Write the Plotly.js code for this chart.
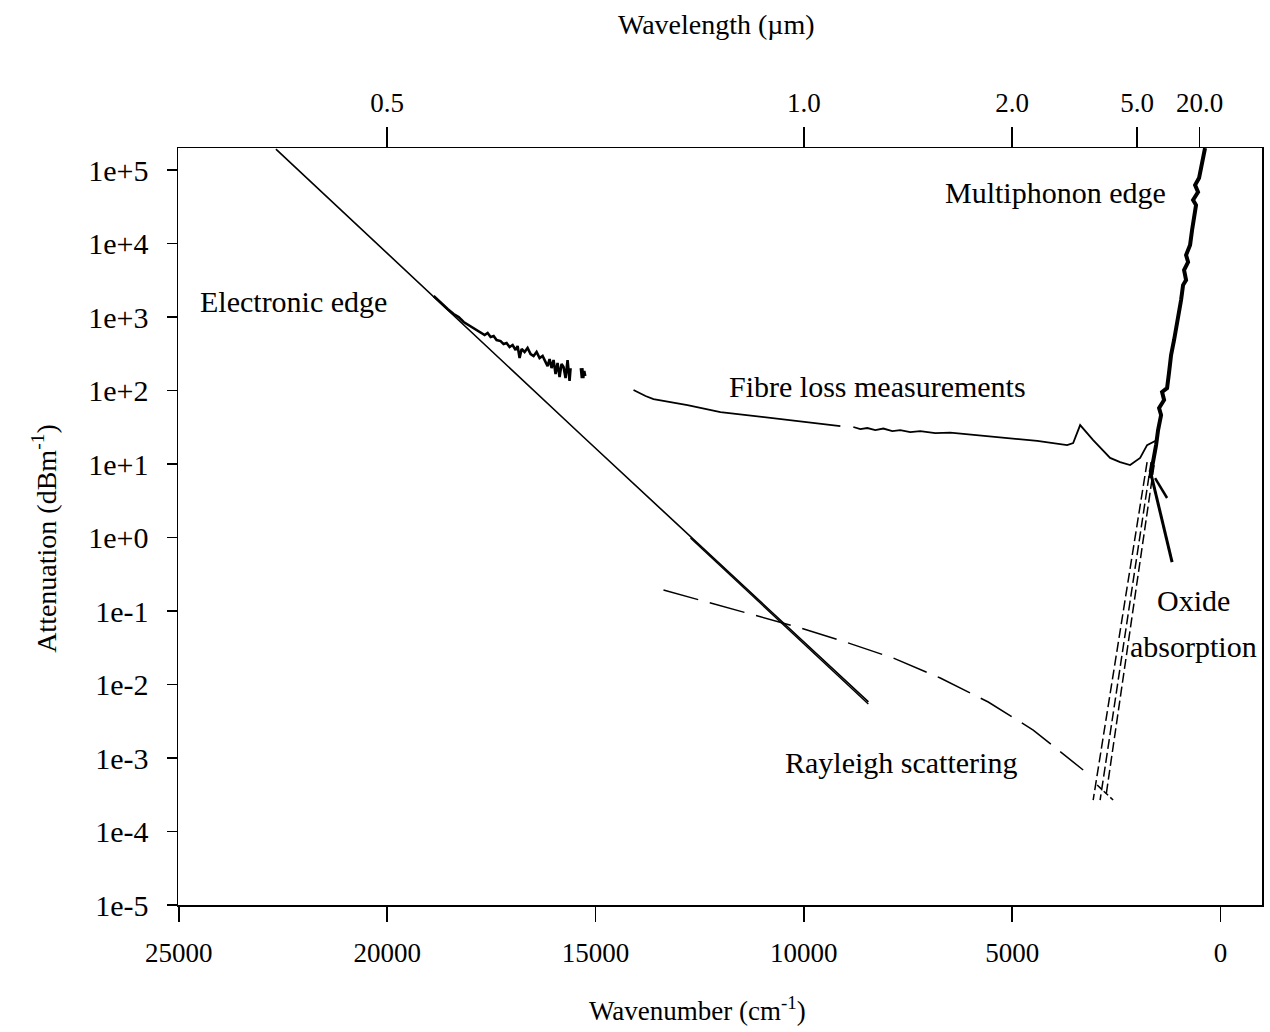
<!DOCTYPE html>
<html>
<head>
<meta charset="utf-8">
<script src="https://cdn.plot.ly/plotly-3.0.1.min.js"></script>
<style>html,body{margin:0;padding:0;background:#fff;}#chart{width:1270px;height:1032px;}</style>
</head>
<body>
<div id="chart"></div>
<script>
// ---- Data (wavenumber in cm^-1, attenuation in dB/m) ----
// Electronic edge: Urbach fit line
const edgeFitX = [22670, 18956, 15290, 8450];
const edgeFitY = [1.93e5, 2055, 23.3, 5.8e-3];
// second (slightly shifted) fit line near the end of the edge
const edgeFit2X = [12721, 8453];
const edgeFit2Y = [0.984, 5.43e-3];
// Measured (noisy) electronic edge data
const edgeMeasX = [18884,18716,18549,18405,18285,18165,18045,17949,17853,17757,17661,17589,17517,17445,17374,17278,17206,17134,17062,16990,16918,16870,16822,16774,16702,16630,16558,16486,16414,16342,16270,16198,16150,16102,16055,16007,15959,15911,15863,15815,15767,15719,15671,15623,15599];
const edgeMeasY = [1932,1550,1285,1099,1000,855,778,708,665,625,569,606,535,551,487,471,429,443,391,416,356,403,277,367,334,379,314,295,334,277,295,244,215,268,202,260,168,237,153,230,209,148,260,135,202];
const edgeBlobX = [15335, 15311, 15287, 15263];
const edgeBlobY = [202, 148, 184, 157];
// Fibre loss measurements
const fibreX = [14088,13800,13609,13201,12793,12002,10803,9844,9124,null,8813,8645,8477,8285,8093,7877,7686,7446,7206,6846,6487,6127,5599,5288,5048,4400,3681,3537,3369,3057,2650,2410,2170,1930,1763,1523];
const fibreY = [101.6,84.2,76.6,69.8,63.5,51.0,42.3,36.1,32.9,null,31.9,29.9,30.9,29.0,30.4,28.1,29.0,27.2,28.1,26.4,26.8,25.6,24.0,23.3,22.6,20.6,18.1,19.3,33.9,21.2,12.1,10.6,9.7,12.1,18.1,21.2];
// Multiphonon edge
const multiX = [1691,1619,1547,1499,1427,1475,1355,1403,1283,1235,1187,1115,1043,995,947,899,827,875,779,827,731,683,635,588,659,540,611,516,468,420,372];
const multiY = [6.45,10.6,18.1,29.0,46.4,57.8,74.3,95.4,108,178,304,487,778,1170,1703,2724,3188,4357,5600,6980,9550,15270,24400,33400,39100,50200,62500,77800,106400,145600,199200];
// Oxide absorption (solid tail + dashed bands)
const oxideSolidX = [1691, 1163];
const oxideSolidY = [8.28, 0.464];
const oxideBranchX = [1571, 1283];
const oxideBranchY = [6.45, 3.45];
const oxide1X = [1763, 3057];
const oxide1Y = [10.6, 2.68e-4];
const oxide2X = [1667, 2890];
const oxide2Y = [10.6, 2.68e-4];
const oxide3X = [1595, 2746];
const oxide3Y = [9.69, 3.14e-4];
const oxide4X = [2961, 2578];
const oxide4Y = [4.29e-4, 2.68e-4];
// Rayleigh scattering
const rayX = [13369,12482,11355,10156,9005,7854,6726,5575,4496,3297];
const rayY = [0.193,0.141,0.0939,0.0606,0.0379,0.0229,0.01226,0.00578,0.00240,0.000687];
// Tick labels
const xTicks = [25000,20000,15000,10000,5000,0];
const yTickVals = [1e-5,1e-4,1e-3,1e-2,1e-1,1,10,100,1e3,1e4,1e5];
const yTickText = ['1e-5','1e-4','1e-3','1e-2','1e-1','1e+0','1e+1','1e+2','1e+3','1e+4','1e+5'];
const topTickVals = [20000,10000,5000,2000,500];
const topTickText = ['0.5','1.0','2.0','5.0','20.0'];

const FONT = 'Liberation Serif, Times New Roman, serif';
function ln(x, y, w, dash) {
  return {x: x, y: y, type: 'scatter', mode: 'lines', connectgaps: false,
    line: {color: '#000', width: w, dash: dash || 'solid'}, hoverinfo: 'skip', showlegend: false};
}
const traces = [
  ln(edgeFitX, edgeFitY, 1.6),
  ln(edgeFit2X, edgeFit2Y, 1.4),
  ln(edgeMeasX, edgeMeasY, 2.6),
  ln(edgeBlobX, edgeBlobY, 4),
  ln(fibreX, fibreY, 1.8),
  ln(multiX, multiY, 4),
  ln(oxideSolidX, oxideSolidY, 3),
  ln(oxideBranchX, oxideBranchY, 2.5),
  ln(oxide1X, oxide1Y, 1.5, '10px,4px'),
  ln(oxide2X, oxide2Y, 1.5, '10px,4px'),
  ln(oxide3X, oxide3Y, 1.5, '10px,4px'),
  ln(oxide4X, oxide4Y, 1.5, '6px,3px'),
  ln(rayX, rayY, 1.5, '36px,12px'),
  // invisible trace to carry the top (wavelength) axis
  Object.assign(ln(rayX, rayY, 1), {xaxis: 'x2', opacity: 0})
];
const xr = [25020, -995];
const layout = {
  width: 1270, height: 1032,
  margin: {l: 178, r: 8, t: 148, b: 127},
  paper_bgcolor: '#fff', plot_bgcolor: '#fff',
  font: {family: FONT, color: '#000', size: 26},
  showlegend: false,
  xaxis: {range: xr, tickvals: xTicks, ticktext: xTicks.map(String), ticks: 'outside', ticklen: 15,
    tickwidth: 1.5, tickcolor: '#000', showline: true, linecolor: '#000', linewidth: 1.5, mirror: true,
    showgrid: false, zeroline: false, ticklabelstandoff: 8, tickfont: {family: FONT, size: 27}},
  xaxis2: {range: xr, overlaying: 'x', side: 'top', tickvals: topTickVals, ticktext: topTickText,
    ticks: 'outside', ticklen: 20, tickwidth: 1.5, tickcolor: '#000', showline: false,
    showgrid: false, zeroline: false, ticklabelstandoff: 4, tickfont: {family: FONT, size: 27}},
  yaxis: {type: 'log', range: [-5, 5.3], tickvals: yTickVals, ticktext: yTickText, ticks: 'outside',
    ticklen: 10, tickwidth: 1.5, tickcolor: '#000', showline: true, linecolor: '#000', linewidth: 1.5,
    mirror: true, showgrid: false, zeroline: false, ticklabelstandoff: 12, tickfont: {family: FONT, size: 30}},
  annotations: [
    {text: 'Wavelength (µm)', xref: 'paper', yref: 'paper', x: 0.497, y: 1.1625, showarrow: false,
      xanchor: 'center', yanchor: 'middle', font: {family: FONT, size: 28}},
    {text: 'Wavenumber (cm<sup>-1</sup>)', xref: 'paper', yref: 'paper', x: 0.479, y: -0.138, showarrow: false,
      xanchor: 'center', yanchor: 'middle', font: {family: FONT, size: 27}},
    {text: 'Attenuation (dBm<sup>-1</sup>)', xref: 'paper', yref: 'paper', x: -0.1227, y: 0.485, showarrow: false,
      textangle: -90, xanchor: 'center', yanchor: 'middle', font: {family: FONT, size: 28}},
    {text: 'Electronic edge', xref: 'paper', yref: 'paper', x: 0.0185, y: 0.7966, showarrow: false,
      xanchor: 'left', yanchor: 'middle', font: {family: FONT, size: 30}},
    {text: 'Fibre loss measurements', xref: 'paper', yref: 'paper', x: 0.5065, y: 0.6856, showarrow: false,
      xanchor: 'left', yanchor: 'middle', font: {family: FONT, size: 30}},
    {text: 'Multiphonon edge', xref: 'paper', yref: 'paper', x: 0.7057, y: 0.9406, showarrow: false,
      xanchor: 'left', yanchor: 'middle', font: {family: FONT, size: 30}},
    {text: 'Oxide', xref: 'paper', yref: 'paper', x: 0.9364, y: 0.4029, showarrow: false,
      xanchor: 'center', yanchor: 'middle', font: {family: FONT, size: 30}},
    {text: 'absorption', xref: 'paper', yref: 'paper', x: 0.8764, y: 0.3421, showarrow: false,
      xanchor: 'left', yanchor: 'middle', font: {family: FONT, size: 30}},
    {text: 'Rayleigh scattering', xref: 'paper', yref: 'paper', x: 0.5581, y: 0.1876, showarrow: false,
      xanchor: 'left', yanchor: 'middle', font: {family: FONT, size: 30}}
  ]
};
Plotly.newPlot('chart', traces, layout, {displayModeBar: false, staticPlot: true});
</script>
</body>
</html>
